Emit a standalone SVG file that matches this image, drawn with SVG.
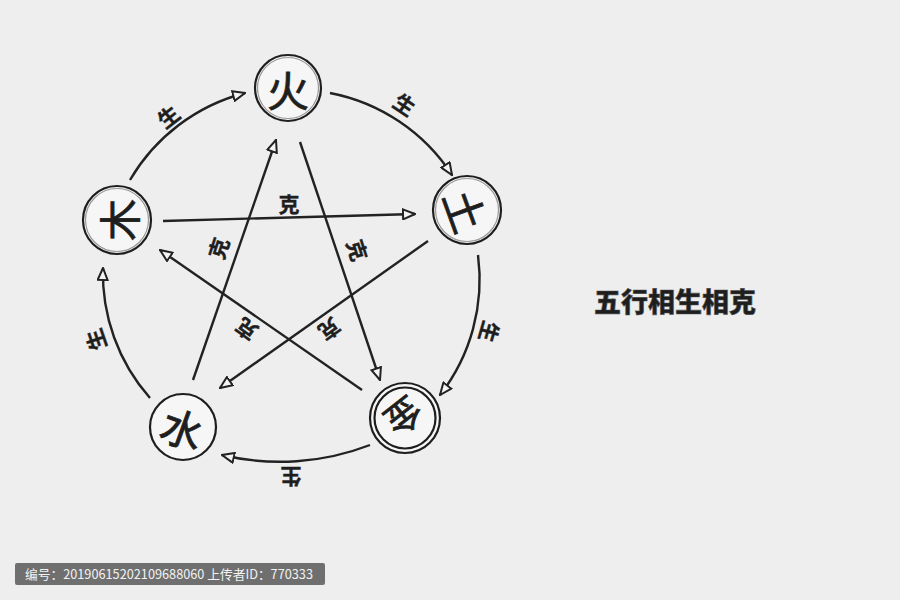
<svg xmlns="http://www.w3.org/2000/svg" width="900" height="600" viewBox="0 0 900 600">
<defs>
<marker id="arr" viewBox="-1 -1 14 12" refX="12" refY="5" markerWidth="14" markerHeight="12" markerUnits="userSpaceOnUse" orient="auto">
<path d="M0,0 L12,5 L0,10 Z" fill="#f4f4f4" stroke="#222" stroke-width="2" stroke-linejoin="miter"/>
</marker>
</defs>
<style>
.bg{fill:#eeeeee}
.node circle{fill:#f6f6f6;stroke:#1e1e1e;stroke-width:2.2}
.node .inner{fill:none;stroke:#9a9a9a;stroke-width:1.2}
.sym{font-family:"Noto Sans CJK SC","Noto Sans CJK JP",sans-serif;font-size:42px;font-weight:400;fill:#1e1e1e;stroke:#1e1e1e;stroke-width:0.8;text-anchor:middle;dominant-baseline:central}
.conn path,.conn line{fill:none;stroke:#222;stroke-width:2.4;marker-end:url(#arr)}
.lbl{font-family:"Noto Sans CJK SC","Noto Sans CJK JP",sans-serif;font-size:21px;font-weight:700;fill:#1e1e1e;stroke:#1e1e1e;stroke-width:0.4;text-anchor:middle;dominant-baseline:central}
.title{font-family:"Noto Sans CJK SC","Noto Sans CJK JP",sans-serif;font-size:27px;font-weight:900;fill:#1e1e1e;stroke:#555;stroke-width:0.6;text-anchor:middle}
</style>
<rect class="bg" x="0" y="0" width="900" height="600"/>

<g id="connectors" class="conn">
<path d="M130,180 A188,188 0 0 1 245,93"/>
<path d="M330,93 A188,188 0 0 1 452,175"/>
<path d="M478,255 A188,188 0 0 1 440,395"/>
<path d="M370,445 A250,250 0 0 1 222,455"/>
<path d="M150,398 A188,188 0 0 1 103,268"/>
<line x1="163" y1="221" x2="415" y2="214"/>
<line x1="428" y1="241" x2="220" y2="388"/>
<line x1="193" y1="380" x2="276" y2="140"/>
<line x1="300" y1="142" x2="380" y2="380"/>
<line x1="362" y1="390" x2="160" y2="250"/>
</g>

<g id="labels">
<text class="lbl" transform="translate(168,116) rotate(-38)">生</text>
<text class="lbl" transform="translate(405,104) rotate(34)">生</text>
<text class="lbl" transform="translate(490,332) rotate(106)">生</text>
<text class="lbl" transform="translate(291,478) rotate(180)">生</text>
<text class="lbl" transform="translate(95,340) rotate(-109)">生</text>
<text class="lbl" transform="translate(289,203)">克</text>
<text class="lbl" transform="translate(218,248) rotate(-72)">克</text>
<text class="lbl" transform="translate(358,250) rotate(72)">克</text>
<text class="lbl" transform="translate(246,330) rotate(-144)">克</text>
<text class="lbl" transform="translate(330,330) rotate(144)">克</text>
</g>

<g id="node-fire" class="node">
<circle cx="288" cy="88" r="33"/>
<circle class="inner" cx="288" cy="88" r="30.5"/>
<text class="sym" transform="translate(288,88)">火</text>
</g>
<g id="node-earth" class="node">
<circle cx="467" cy="210" r="34"/>
<circle class="inner" cx="467" cy="210" r="31.5"/>
<text class="sym" transform="translate(467,210) rotate(70)">土</text>
</g>
<g id="node-metal" class="node">
<circle cx="405" cy="418" r="35"/>
<circle cx="405" cy="418" r="30.5" style="fill:none"/>
<text class="sym" transform="translate(405,418) rotate(142)" style="font-size:36px">金</text>
</g>
<g id="node-water" class="node">
<circle cx="183" cy="427" r="33"/>
<text class="sym" transform="translate(183,427) rotate(20)">水</text>
</g>
<g id="node-wood" class="node">
<circle cx="117" cy="220" r="34"/>
<circle class="inner" cx="117" cy="220" r="31.5"/>
<text class="sym" transform="translate(117,220) rotate(-90)">木</text>
</g>

<text class="title" x="675" y="312">五行相生相克</text>

<g id="watermark">
<rect x="15" y="563" width="310" height="22" rx="2" fill="#6f6f6f"/>
<text x="25" y="579" textLength="288" lengthAdjust="spacingAndGlyphs" font-family="'Noto Sans CJK SC','Noto Sans',sans-serif" font-size="13" fill="#f2f2f2">编号：20190615202109688060 上传者ID：770333</text>
</g>
</svg>
